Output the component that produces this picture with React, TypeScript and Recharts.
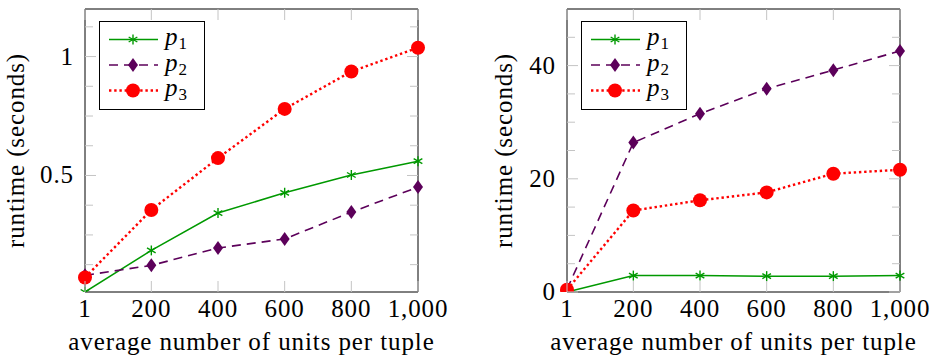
import { LineChart, Line, XAxis, YAxis, ReferenceArea, Legend } from 'recharts';

// x positions: average number of units per tuple
const units = [1, 200, 400, 600, 800, 1000];

// left panel (runtime in seconds)
const leftP1 = [0.01, 0.185, 0.342, 0.427, 0.502, 0.56];
const leftP2 = [0.08, 0.122, 0.195, 0.233, 0.346, 0.451];
const leftP3 = [0.071, 0.355, 0.573, 0.78, 0.937, 1.037];
const leftTicks = [0.125, 0.25, 0.375, 0.5, 0.625, 0.75, 0.875, 1, 1.125];
const leftMajor = [0.5, 1];

// right panel (runtime in seconds)
const rightP1 = [0, 2.9, 2.9, 2.8, 2.8, 2.9];
const rightP2 = [0.5, 26.4, 31.5, 35.9, 39.2, 42.6];
const rightP3 = [0.4, 14.4, 16.2, 17.6, 20.9, 21.6];
const rightTicks = [0, 5, 10, 15, 20, 25, 30, 35, 40, 45];
const rightMajor = [0, 20, 40];

const FONT = '"Liberation Serif", "Times New Roman", "DejaVu Serif", serif';
const GREEN = '#009900';
const PURPLE = '#5c005a';
const RED = '#ff0000';
const TICK = '#c4c4c4';

const W = 467;
const H = 360;
const PLOT_TOP = 9;
const PLOT_BOTTOM = 292;
const PLOT_W = 333;
const PLOT_H = PLOT_BOTTOM - PLOT_TOP;

// roughly mimic the wider Computer Modern look of the original
const txt = (size: number, italic = false, spacing = 0.9) => ({
  fontFamily: FONT,
  fontSize: size,
  fontStyle: italic ? 'italic' : 'normal',
  letterSpacing: spacing,
});

function Asterisk({ cx, cy }: { cx: number; cy: number }) {
  const r = 5;
  const arms = [90, 30, 150].map((a) => {
    const rad = (a * Math.PI) / 180;
    return [Math.cos(rad) * r, Math.sin(rad) * r];
  });
  return (
    <g stroke={GREEN} strokeWidth={1.4}>
      {arms.map(([dx, dy], i) => (
        <line key={i} x1={cx - dx} y1={cy - dy} x2={cx + dx} y2={cy + dy} />
      ))}
    </g>
  );
}

function Diamond({ cx, cy }: { cx: number; cy: number }) {
  return <path d={`M${cx},${cy - 7}L${cx + 5},${cy}L${cx},${cy + 7}L${cx - 5},${cy}Z`} fill={PURPLE} />;
}

function Disc({ cx, cy }: { cx: number; cy: number }) {
  return <circle cx={cx} cy={cy} r={7} fill={RED} />;
}

const seriesStyle = [
  { key: 'p1', color: GREEN, width: 1.5, dash: undefined as string | undefined, Mark: Asterisk },
  { key: 'p2', color: PURPLE, width: 1.6, dash: '9 6', Mark: Diamond },
  { key: 'p3', color: RED, width: 2.4, dash: '2.4 2.8', Mark: Disc },
];

function LegendBox() {
  const rows = [18.5, 44, 69.5];
  return (
    <svg width={106} height={89} style={{ display: 'block' }}>
      <rect x={0.5} y={0.5} width={105} height={88} fill="#fff" stroke="#000" />
      {seriesStyle.map((s, i) => (
        <g key={s.key}>
          <line x1={10} x2={59} y1={rows[i]} y2={rows[i]} stroke={s.color} strokeWidth={s.width} strokeDasharray={s.dash} />
          <s.Mark cx={34} cy={rows[i]} />
          <text x={66} y={rows[i] + 5.5} style={txt(25, true, 0)} fill="#000">
            p
            <tspan style={txt(17, false, 0)} dx={1} dy={4}>
              {i + 1}
            </tspan>
          </text>
        </g>
      ))}
    </svg>
  );
}

const fmtX = (v: number) => v.toLocaleString('en-US');

interface PanelProps {
  p1: number[];
  p2: number[];
  p3: number[];
  domain: [number, number];
  ticks: number[];
  major: number[];
  plotLeft: number;
  yLabelX: number;
}

function Panel({ p1, p2, p3, domain, ticks, major, plotLeft, yLabelX }: PanelProps) {
  const data = units.map((u, i) => ({ u, p1: p1[i], p2: p2[i], p3: p3[i] }));
  const yAxisW = 60;

  const xTick = ({ x, y, payload }: any) => (
    <g>
      <line x1={x} x2={x} y1={y} y2={y - 11} stroke={TICK} />
      <line x1={x} x2={x} y1={y - PLOT_H} y2={y - PLOT_H + 11} stroke={TICK} />
      <text x={x} y={y + 25} textAnchor="middle" style={txt(25)} fill="#000">
        {fmtX(payload.value)}
      </text>
    </g>
  );

  const yTick = ({ x, y, payload }: any) => {
    const isMajor = major.includes(payload.value);
    const len = isMajor ? 11 : 8;
    return (
      <g>
        <line x1={x} x2={x + len} y1={y} y2={y} stroke={TICK} />
        <line x1={x + PLOT_W} x2={x + PLOT_W - len} y1={y} y2={y} stroke={TICK} />
        {isMajor && (
          <text x={x - 11} y={y + 8} textAnchor="end" style={txt(25)} fill="#000">
            {payload.value}
          </text>
        )}
      </g>
    );
  };

  return (
    <LineChart
      width={W}
      height={H}
      data={data}
      style={{ fontFamily: FONT }}
      margin={{ top: PLOT_TOP, right: W - plotLeft - PLOT_W, bottom: H - PLOT_BOTTOM - 30, left: plotLeft - yAxisW }}
    >
      <XAxis
        dataKey="u"
        type="number"
        domain={[1, 1000]}
        ticks={units}
        interval={0}
        height={30}
        axisLine={false}
        tickLine={false}
        tickSize={0}
        tickMargin={0}
        tick={xTick}
        label={{
          content: ({ viewBox }: any) => (
            <text x={viewBox.x + viewBox.width / 2} y={350} textAnchor="middle" style={txt(25)} fill="#000">
              average number of units per tuple
            </text>
          ),
        }}
      />
      <YAxis
        type="number"
        domain={domain}
        ticks={ticks}
        interval={0}
        width={yAxisW}
        axisLine={false}
        tickLine={false}
        tickSize={0}
        tickMargin={0}
        tick={yTick}
        allowDataOverflow
        label={{
          content: ({ viewBox }: any) => {
            const cy = viewBox.y + viewBox.height / 2;
            return (
              <text
                x={yLabelX}
                y={cy}
                transform={`rotate(-90, ${yLabelX}, ${cy})`}
                textAnchor="middle"
                style={txt(25)}
                fill="#000"
              >
                runtime (seconds)
              </text>
            );
          },
        }}
      />
      <ReferenceArea x1={1} x2={1000} y1={domain[0]} y2={domain[1]} fill="none" stroke="#000" strokeWidth={1} fillOpacity={0} />
      {seriesStyle.map((s) => (
        <Line
          key={s.key}
          dataKey={s.key}
          type="linear"
          stroke={s.color}
          strokeWidth={s.width}
          strokeDasharray={s.dash}
          isAnimationActive={false}
          activeDot={false}
          dot={(props: any) => <s.Mark key={`${s.key}-${props.index}`} cx={props.cx} cy={props.cy} />}
        />
      ))}
      <Legend
        layout="horizontal"
        verticalAlign="middle"
        align="center"
        content={() => <LegendBox />}
        wrapperStyle={{ left: plotLeft + 14, top: 21, width: 106, height: 89 }}
      />
    </LineChart>
  );
}

export default function App() {
  return (
    <div style={{ position: 'absolute', left: 0, top: 0, width: 934, height: 360, background: '#fff', display: 'flex', fontFamily: FONT }}>
      <Panel p1={leftP1} p2={leftP2} p3={leftP3} domain={[0.01, 1.2]} ticks={leftTicks} major={leftMajor} plotLeft={85} yLabelX={24} />
      <Panel p1={rightP1} p2={rightP2} p3={rightP3} domain={[0, 50]} ticks={rightTicks} major={rightMajor} plotLeft={100} yLabelX={45} />
    </div>
  );
}
